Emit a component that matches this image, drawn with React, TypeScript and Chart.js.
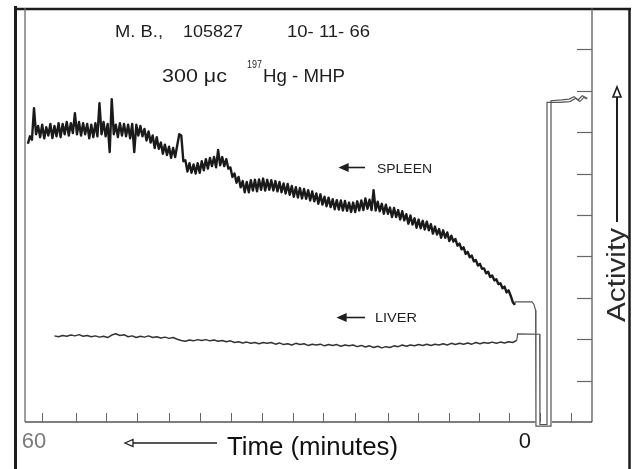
import React, { useEffect, useRef } from 'react';
import { Chart, registerables } from 'chart.js';

Chart.register(...registerables);

const FONT = "'Liberation Sans', Arial, sans-serif";

// Time axis (minutes), reversed so that 60 is on the left and 0 on the right
const X_MIN = -8.19;
const X_MAX = 61.1;
const X_LABELS = [60, 0];
const X_TICK_MARKS = [59.0, 54.9, 51.2, 47.4, 43.5, 39.7, 35.9, 32.1, 28.4, 24.7, 20.8, 16.7, 13.1, 9.3, 5.6, 2.0, -1.8, -5.6];
// Activity axis (chart divisions)
const Y_MIN = 0;
const Y_MAX = 10;
const Y_TICK_MARKS = [1, 2, 3, 4, 5, 6, 7, 8, 9];

// Spleen trace, sampled every 0.25 min starting at 60.75 min
const SPLEEN_START = 60.75;
const SPLEEN_STEP = 0.25;
const SPLEEN = [
  6.72, 6.90, 6.82,
  7.58, 6.95, 7.15, 6.88,
  7.18, 6.85, 7.12, 6.92,
  7.20, 6.86, 7.15, 6.90,
  7.22, 6.88, 7.20, 6.95,
  7.25, 6.92, 7.22, 6.98,
  7.46, 6.95, 7.25, 6.92,
  7.22, 6.95, 7.20, 6.85,
  7.18, 6.88, 7.22, 6.90,
  7.70, 6.95, 7.25, 6.90,
  7.20, 6.52, 7.80, 6.95,
  7.18, 6.88, 7.22, 6.92,
  7.20, 6.90, 7.18, 6.85,
  7.20, 6.52, 7.18, 6.92,
  7.15, 6.90, 7.08, 6.80,
  7.02, 6.75, 6.92, 6.62,
  6.88, 6.60, 6.75, 6.48,
  6.70, 6.45, 6.65, 6.38,
  6.62, 6.40, 6.68, 6.95,
  6.92, 6.30, 6.32, 6.05,
  6.25, 6.02, 6.22, 6.00,
  6.25, 6.02, 6.30, 6.08,
  6.35, 6.12, 6.38, 6.18,
  6.40, 6.15, 6.57, 6.20,
  6.40, 6.18, 6.35, 6.12,
  6.15, 5.92, 6.00, 5.78,
  5.92, 5.67, 5.82, 5.55,
  5.80, 5.55, 5.84, 5.59,
  5.85, 5.57, 5.86, 5.61,
  5.88, 5.59, 5.85, 5.61,
  5.84, 5.59, 5.82, 5.57,
  5.80, 5.55, 5.76, 5.52,
  5.75, 5.49, 5.70, 5.44,
  5.67, 5.42, 5.65, 5.40,
  5.63, 5.39, 5.60, 5.35,
  5.57, 5.33, 5.52, 5.27,
  5.50, 5.25, 5.44, 5.21,
  5.42, 5.19, 5.38, 5.14,
  5.36, 5.13, 5.35, 5.11,
  5.34, 5.10, 5.30, 5.07,
  5.30, 5.07, 5.33, 5.11,
  5.35, 5.12, 5.40, 5.15,
  5.37, 5.12, 5.60, 5.11,
  5.32, 5.09, 5.27, 5.03,
  5.25, 5.03, 5.18, 4.95,
  5.17, 4.95, 5.12, 4.89,
  5.09, 4.87, 5.02, 4.79,
  4.99, 4.77, 4.92, 4.69,
  4.89, 4.68, 4.86, 4.65,
  4.84, 4.63, 4.78, 4.55,
  4.72, 4.53, 4.66, 4.45,
  4.63, 4.45, 4.58, 4.37,
  4.50, 4.36, 4.42, 4.26,
  4.31, 4.17, 4.22, 4.06,
  4.11, 3.98, 4.02, 3.88,
  3.91, 3.78, 3.82, 3.70,
  3.71, 3.59, 3.63, 3.50,
  3.54, 3.42, 3.45, 3.33,
  3.35, 3.23, 3.27, 3.13,
  3.18, 3.05, 2.90, 2.83,
];
// Spleen pen after the run: plateau, pen excursion below zero and return to full scale
const SPLEEN_TAIL_T = [1.25, 1.2, -0.85, -1.1, -1.3, -1.34, -1.34, -3.18, -3.18, -4.5, -5.4, -6.0, -6.5, -7.0, -7.6];
const SPLEEN_TAIL_A = [2.83, 2.90, 2.90, 2.84, 2.70, 2.50, -0.1, -0.1, 7.76, 7.78, 7.80, 7.86, 7.78, 7.88, 7.82];

// Liver trace, sampled every 0.5 min starting at 57.5 min
const LIVER_START = 57.5;
const LIVER_STEP = 0.5;
const LIVER = [
  2.08, 2.06, 2.09, 2.07, 2.10, 2.08, 2.11, 2.07, 2.09, 2.06,
  2.08, 2.05, 2.07, 2.04, 2.10, 2.13, 2.09, 2.11, 2.06, 2.08,
  2.04, 2.07, 2.05, 2.08, 2.04, 2.06, 2.03, 2.05, 2.02, 2.04,
  2.00, 1.97, 1.95, 1.98, 1.96, 1.99, 1.97, 1.99, 1.96, 1.98,
  1.95, 1.97, 1.94, 1.96, 1.92, 1.94, 1.91, 1.93, 1.90, 1.92,
  1.89, 1.92, 1.90, 1.92, 1.88, 1.91, 1.87, 1.89, 1.86, 1.90,
  1.87, 1.89, 1.85, 1.88, 1.86, 1.88, 1.84, 1.87, 1.85, 1.87,
  1.83, 1.86, 1.84, 1.86, 1.82, 1.85, 1.81, 1.84, 1.80, 1.83,
  1.79, 1.82, 1.80, 1.84, 1.82, 1.86, 1.83, 1.86, 1.84, 1.87,
  1.85, 1.88, 1.85, 1.88, 1.86, 1.89, 1.86, 1.90, 1.87, 1.90,
  1.88, 1.91, 1.88, 1.92, 1.89, 1.92, 1.90, 1.93, 1.90, 1.93,
  1.91, 1.94, 1.92, 1.97,
];
const LIVER_TAIL_T = [1.0, 0.9, -1.8, -1.83, -1.83, -2.69, -2.69, -4.2, -5.5, -6.2, -6.7, -7.2, -7.6];
const LIVER_TAIL_A = [1.97, 2.13, 2.12, 2.05, -0.06, -0.06, 7.72, 7.72, 7.74, 7.82, 7.74, 7.84, 7.80];

function line(ctx: CanvasRenderingContext2D, x1: number, y1: number, x2: number, y2: number, w: number, c: string) {
  ctx.beginPath();
  ctx.lineWidth = w;
  ctx.strokeStyle = c;
  ctx.moveTo(x1, y1);
  ctx.lineTo(x2, y2);
  ctx.stroke();
}

function text(ctx: CanvasRenderingContext2D, s: string, x: number, base: number, width: number, size: number, color = '#1e1e1e', weight = 'normal') {
  ctx.save();
  ctx.font = `${weight} ${size}px ${FONT}`;
  ctx.fillStyle = color;
  ctx.textAlign = 'left';
  ctx.textBaseline = 'alphabetic';
  const w = ctx.measureText(s).width;
  ctx.translate(x, base);
  ctx.scale(width / w, 1);
  ctx.fillText(s, 0, 0);
  ctx.restore();
}

function leftArrow(ctx: CanvasRenderingContext2D, x1: number, x2: number, y: number, filled: boolean, w: number) {
  line(ctx, x1 + 5, y, x2, y, w, '#1e1e1e');
  ctx.beginPath();
  ctx.moveTo(x1, y);
  ctx.lineTo(x1 + 8, y - 3.5);
  ctx.lineTo(x1 + 8, y + 3.5);
  ctx.closePath();
  ctx.lineWidth = 1.3;
  ctx.strokeStyle = '#1e1e1e';
  ctx.fillStyle = filled ? '#1e1e1e' : '#ffffff';
  ctx.fill();
  ctx.stroke();
}

const decor = {
  id: 'decor',
  beforeDatasetsDraw(chart: any) {
    const { ctx, chartArea: a, scales } = chart;
    const x = scales.x;
    const y = scales.y;
    ctx.save();
    // outer frame
    line(ctx, 15.5, 6, 15.5, 469, 3, '#1c1c1c');
    line(ctx, 14, 9, 631, 9, 2.5, '#1c1c1c');
    line(ctx, 629.5, 8, 629.5, 469, 2.5, '#1c1c1c');
    // plot box
    line(ctx, a.left, a.top, a.left, a.bottom, 1.3, '#6a6a6a');
    line(ctx, a.right, a.top, a.right, a.bottom, 1.3, '#5a5a5a');
    const gL = x.getPixelForValue(-1.25);
    const gR = x.getPixelForValue(-3.3);
    line(ctx, a.left, a.bottom, gL, a.bottom, 1.3, '#555');
    line(ctx, gR, a.bottom, a.right, a.bottom, 1.3, '#555');
    X_TICK_MARKS.forEach((v) => {
      const px = Math.round(x.getPixelForValue(v)) + 0.5;
      line(ctx, px, a.bottom - 9, px, a.bottom, 1, '#666');
    });
    Y_TICK_MARKS.forEach((v) => {
      const py = Math.round(y.getPixelForValue(v)) + 0.5;
      line(ctx, a.right - 15, py, a.right, py, 1.2, '#666');
    });
    ctx.restore();
  },
  afterDraw(chart: any) {
    const ctx: CanvasRenderingContext2D = chart.ctx;
    ctx.save();
    // header
    text(ctx, 'M. B.,', 115, 37, 48, 17);
    text(ctx, '105827', 183, 37, 60, 17);
    text(ctx, '10- 11- 66', 287, 37, 83, 17);
    text(ctx, '300 μc', 162, 82, 65, 18);
    text(ctx, '197', 247, 68, 15, 11);
    text(ctx, 'Hg - MHP', 263, 82, 82, 18);
    // trace labels
    leftArrow(ctx, 340, 365, 167.5, true, 1.6);
    text(ctx, 'SPLEEN', 377, 172.5, 55, 13);
    leftArrow(ctx, 338, 365, 317.5, true, 1.6);
    text(ctx, 'LIVER', 375, 322, 42, 13);
    // time axis title
    leftArrow(ctx, 125, 217, 443, false, 1.6);
    text(ctx, 'Time (minutes)', 227, 455, 171, 26, '#111');
    // activity title with up arrow
    ctx.save();
    ctx.translate(625, 322);
    ctx.rotate(-Math.PI / 2);
    text(ctx, 'Activity', 0, 0, 94, 25, '#2a2a2a');
    ctx.restore();
    line(ctx, 617, 222, 617, 96, 2, '#1e1e1e');
    ctx.beginPath();
    ctx.moveTo(617, 87);
    ctx.lineTo(621, 97);
    ctx.lineTo(613, 97);
    ctx.closePath();
    ctx.fillStyle = '#fff';
    ctx.fill();
    ctx.lineWidth = 1.6;
    ctx.strokeStyle = '#1e1e1e';
    ctx.stroke();
    ctx.restore();
  },
};

export default function App() {
  const ref = useRef<HTMLCanvasElement | null>(null);
  useEffect(() => {
    if (!ref.current) return;
    const spleen = SPLEEN.map((v, i) => ({ x: SPLEEN_START - i * SPLEEN_STEP, y: v }));
    const spleenTail = SPLEEN_TAIL_T.map((t, i) => ({ x: t, y: SPLEEN_TAIL_A[i] }));
    const liver = LIVER.map((v, i) => ({ x: LIVER_START - i * LIVER_STEP, y: v }));
    const liverTail = LIVER_TAIL_T.map((t, i) => ({ x: t, y: LIVER_TAIL_A[i] }));
    const chart = new Chart(ref.current, {
      type: 'line',
      data: {
        datasets: [
          { label: 'Spleen', data: spleen, borderColor: '#1a1a1a', borderWidth: 2.4, borderJoinStyle: 'round', pointRadius: 0, tension: 0 },
          { label: 'Spleen (end)', data: spleenTail, borderColor: '#555', borderWidth: 1.2, pointRadius: 0, tension: 0, clip: false },
          { label: 'Liver', data: liver, borderColor: '#333', borderWidth: 1.5, borderJoinStyle: 'round', pointRadius: 0, tension: 0 },
          { label: 'Liver (end)', data: liverTail, borderColor: '#555', borderWidth: 1.2, pointRadius: 0, tension: 0, clip: false },
        ],
      },
      options: {
        animation: false,
        responsive: false,
        events: [],
        layout: { padding: { left: 25, top: 8, right: 47, bottom: 0 } },
        plugins: { legend: { display: false }, tooltip: { enabled: false } },
        scales: {
          x: {
            type: 'linear',
            min: X_MIN,
            max: X_MAX,
            reverse: true,
            grid: { display: false, drawTicks: false },
            border: { display: false },
            afterBuildTicks: (s: any) => {
              s.ticks = X_LABELS.map((v) => ({ value: v }));
            },
            afterFit: (s: any) => {
              s.height = 47;
            },
            ticks: {
              autoSkip: false,
              maxRotation: 0,
              padding: 7,
              font: { family: FONT, size: 22 },
              color: (c: any) => (c.tick && c.tick.value === 60 ? '#7a7a7a' : '#1a1a1a'),
              callback: (v: any) => String(v),
            },
          },
          y: { type: 'linear', min: Y_MIN, max: Y_MAX, display: false },
        },
      } as any,
      plugins: [decor],
    });
    return () => chart.destroy();
  }, []);
  return (
    <div style={{ position: 'absolute', left: 0, top: 0, width: 639, height: 469, background: '#fff' }}>
      <canvas ref={ref} width={639} height={469} style={{ display: 'block', width: 639, height: 469 }} />
    </div>
  );
}
